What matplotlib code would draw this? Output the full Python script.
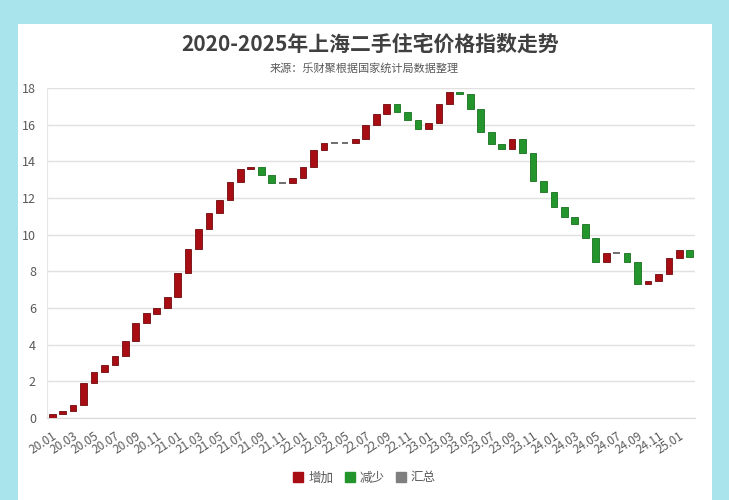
"""Waterfall chart of the Shanghai second-hand housing price index, 2020-2025."""
import matplotlib
matplotlib.use("Agg")
import matplotlib.pyplot as plt
import numpy as np
from matplotlib.patches import Patch, Rectangle

plt.rcParams["font.family"] = ["Noto Sans CJK SC", "DejaVu Sans"]

MONTHS = [f"{y:02d}.{m:02d}" for y in range(20, 25) for m in range(1, 13)] + ["25.01", "25.02"]

# monthly change of the index
CHANGES = [
    0.2, 0.2, 0.3, 1.2, 0.6, 0.4, 0.5, 0.8, 1.0, 0.5, 0.3, 0.6,          # 2020
    1.3, 1.3, 1.1, 0.9, 0.7, 1.0, 0.7, 0.1, -0.45, -0.45, 0.0, 0.3,      # 2021
    0.6, 0.9, 0.4, 0.0, 0.0, 0.2, 0.8, 0.6, 0.5, -0.4, -0.45, -0.5,      # 2022
    0.35, 1.0, 0.7, -0.15, -0.8, -1.25, -0.65, -0.3, 0.55, -0.75, -1.5, -0.65,  # 2023
    -0.8, -0.55, -0.35, -0.8, -1.3, 0.5, 0.0, -0.5, -1.2, 0.15, 0.4, 0.9,  # 2024
    0.4, -0.35,                                                          # 2025
]

TITLE = "2020-2025年上海二手住宅价格指数走势"
SUBTITLE = "来源：乐财聚根据国家统计局数据整理"
LEGEND = ["增加", "减少", "汇总"]

RED = "#a80d13"
GREEN = "#23952c"
GREY = "#7f7f7f"

changes = np.array(CHANGES)
ends = np.cumsum(changes)
starts = ends - changes
x = np.arange(len(MONTHS))

fig = plt.figure(figsize=(7.29, 5.0), dpi=100, facecolor="#a9e3ec")
fig.patches.append(Rectangle((18 / 729, 0), 694 / 729, 1 - 24 / 500,
                             transform=fig.transFigure, facecolor="white",
                             edgecolor="none", zorder=-10))

ax = fig.add_axes([47 / 729, 82 / 500, 648 / 729, 330 / 500])
ax.set_facecolor("white")

width = 0.64
up = changes > 0
down = changes < 0
flat = changes == 0
ax.bar(x[up], changes[up], bottom=starts[up], width=width, color=RED,
       edgecolor="#6e0a0d", linewidth=0.6, zorder=3)
ax.bar(x[down], changes[down], bottom=starts[down], width=width, color=GREEN,
       edgecolor="#17701e", linewidth=0.6, zorder=3)
ax.hlines(ends[flat], x[flat] - width / 2, x[flat] + width / 2, color="#555555",
          linewidth=1.2, zorder=3)

ax.set_xlim(-0.5, len(MONTHS) - 0.5)
ax.set_ylim(0, 18)
ax.set_yticks(range(0, 19, 2))
ax.yaxis.grid(True, color="#e0e0e0", linewidth=1)
ax.set_axisbelow(True)
ax.tick_params(axis="y", length=0, labelsize=9, labelcolor="#595959", pad=8)
ax.set_xticks(x[::2])
ax.set_xticklabels(MONTHS[::2], rotation=33, ha="right", rotation_mode="anchor",
                   fontsize=8.5, color="#595959")
ax.tick_params(axis="x", length=0, pad=8)
for lbl in ax.get_xticklabels():
    lbl.set_x(lbl.get_position()[0])

for side in ("top", "right"):
    ax.spines[side].set_visible(False)
ax.spines["left"].set_color("#e6e6e6")
ax.spines["bottom"].set_color("#d9d9d9")

fig.text(0.508, 1 - 44 / 500, TITLE, ha="center", va="center", fontsize=15,
         fontweight="bold", color="#404040")
fig.text(0.5, 1 - 68 / 500, SUBTITLE, ha="center", va="center", fontsize=8,
         color="#595959")

handles = [Patch(color=c) for c in (RED, GREEN, GREY)]
fig.legend(handles, LEGEND, loc="center", bbox_to_anchor=(0.5, 1 - 478 / 500),
           ncol=3, frameon=False, fontsize=9, handlelength=0.8, handleheight=0.8,
           handletextpad=0.4, columnspacing=0.9, labelcolor="#595959")

fig.savefig("out.png", dpi=100, facecolor=fig.get_facecolor())
